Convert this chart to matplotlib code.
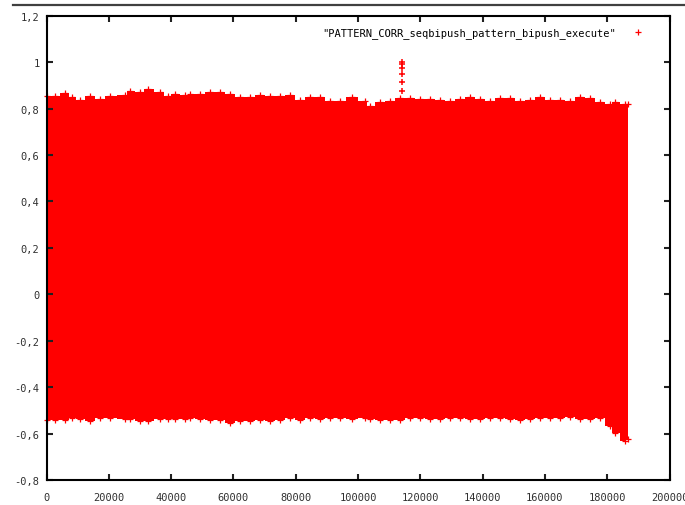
import matplotlib
matplotlib.use("Agg")
import matplotlib.pyplot as plt
from matplotlib.ticker import FuncFormatter, MultipleLocator
from matplotlib.lines import Line2D

# Sample index positions at which the correlation band is summarised
sample_x = [0, 2730, 5940, 8190, 10750, 13960, 17170, 20380, 25200, 26800,
            30010, 32580, 36430, 39000, 41250, 44460, 46070, 49280, 52490, 55700,
            58900, 62110, 65320, 68530, 71740, 74950, 78160, 81370, 84580, 87790,
            91000, 94210, 98070, 102240, 103850, 107060, 110270, 113480, 116690, 119900,
            123110, 126320, 129530, 132740, 135950, 139160, 142370, 145580, 148790, 152000,
            155200, 158410, 161620, 164830, 168040, 171250, 174460, 177670, 180880, 182480,
            185690, 186650]

# Highest correlation value observed around each sample position
corr_max = [0.855, 0.855, 0.867, 0.848, 0.838, 0.855, 0.841, 0.855, 0.858, 0.877,
            0.870, 0.884, 0.872, 0.855, 0.862, 0.858, 0.862, 0.862, 0.870, 0.870,
            0.862, 0.848, 0.848, 0.858, 0.855, 0.855, 0.858, 0.838, 0.848, 0.848,
            0.834, 0.834, 0.848, 0.834, 0.812, 0.827, 0.834, 0.845, 0.845, 0.841,
            0.841, 0.837, 0.834, 0.841, 0.848, 0.841, 0.834, 0.844, 0.844, 0.834,
            0.838, 0.848, 0.838, 0.838, 0.834, 0.848, 0.844, 0.829, 0.819, 0.829,
            0.819, 0.819]

# Lowest correlation value observed around each sample position
corr_min = [-0.543, -0.543, -0.540, -0.534, -0.538, -0.546, -0.531, -0.534, -0.538, -0.538,
            -0.548, -0.546, -0.538, -0.538, -0.538, -0.538, -0.531, -0.538, -0.543, -0.543,
            -0.553, -0.546, -0.546, -0.543, -0.548, -0.543, -0.534, -0.543, -0.534, -0.538,
            -0.534, -0.534, -0.538, -0.534, -0.536, -0.540, -0.543, -0.543, -0.535, -0.535,
            -0.538, -0.538, -0.535, -0.535, -0.538, -0.538, -0.535, -0.535, -0.538, -0.540,
            -0.538, -0.535, -0.535, -0.535, -0.527, -0.538, -0.538, -0.535, -0.567, -0.596,
            -0.632, -0.625]

# Isolated high-correlation hits
peak_x = [114000, 114000, 114000, 114000, 114000, 114000]
peak_y = [0.999, 0.990, 0.975, 0.949, 0.916, 0.874]

series_label = '"PATTERN_CORR_seqbipush_pattern_bipush_execute"'
RED = "#ff0000"

plt.rcParams["font.family"] = ["DejaVu Sans Mono", "DejaVu Sans"]
plt.rcParams["font.size"] = 7.5

fig = plt.figure(figsize=(6.85, 5.06), dpi=100)
ax = fig.add_axes([46.5 / 685, 25 / 506, 623 / 685, 464.3 / 506])

# Dense band of '+' points summarised as a filled region with jagged edges
ax.fill_between(sample_x, corr_min, corr_max, step="mid", color=RED, linewidth=0)
ax.plot(sample_x, corr_max, "+", color=RED, ms=4, mew=0.9, clip_on=False)
ax.plot(sample_x, corr_min, "+", color=RED, ms=4, mew=0.9, clip_on=False)
ax.plot(peak_x, peak_y, "+", color=RED, ms=5, mew=1.1, clip_on=False)

ax.set_xlim(0, 200000)
ax.set_ylim(-0.8, 1.2)
ax.xaxis.set_major_locator(MultipleLocator(20000))
ax.yaxis.set_major_locator(MultipleLocator(0.2))
# Decimal comma on the correlation axis
ax.yaxis.set_major_formatter(FuncFormatter(
    lambda v, p: ("%g" % round(v, 1)).replace(".", ",")))
ax.xaxis.set_major_formatter(FuncFormatter(lambda v, p: "%d" % round(v)))

for s in ax.spines.values():
    s.set_linewidth(1.5)
ax.tick_params(direction="in", length=4, width=1.5, top=True, right=True,
               colors="#202020", labelcolor="#303030")
ax.tick_params(axis="x", pad=9)
ax.tick_params(axis="y", pad=5)

handle = Line2D([], [], linestyle="none", marker="+", color=RED, ms=4, mew=0.9)
ax.legend([handle], [series_label], loc="upper right", markerfirst=False,
          frameon=False, borderpad=0, handlelength=1.0, handletextpad=1.6,
          bbox_to_anchor=((648 - 46.5) / 623, (481 - 23) / 464.3))

# Dark rule across the top of the figure
fig.add_artist(Line2D([13 / 685, 1.0], [1 - 6 / 506, 1 - 6 / 506],
                      transform=fig.transFigure, color="#404040", linewidth=1.6))

fig.savefig("out.png", dpi=100)
